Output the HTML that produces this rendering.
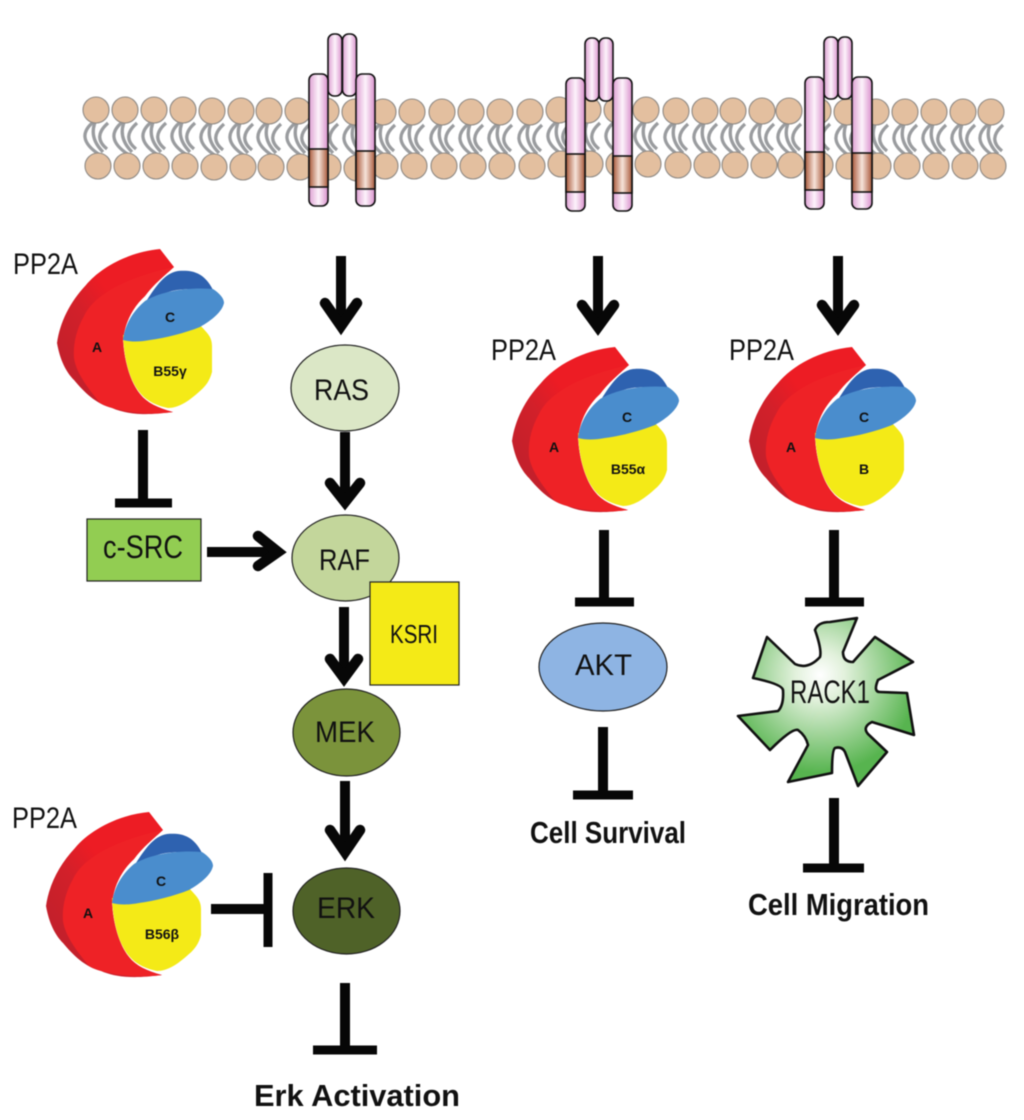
<!DOCTYPE html>
<html><head><meta charset="utf-8"><title>PP2A signalling</title>
<style>html,body{margin:0;padding:0;background:#fff;width:1024px;height:1120px;overflow:hidden}svg{display:block;filter:blur(.5px)}
text{font-family:"Liberation Sans",sans-serif;fill:#111}</style></head><body>
<svg width="1024" height="1120" viewBox="0 0 1024 1120" xmlns="http://www.w3.org/2000/svg">
<defs>
<linearGradient id="pk"><stop offset="0" stop-color="#dd9fd2"/><stop offset=".5" stop-color="#fdf3fb"/><stop offset="1" stop-color="#d990cc"/></linearGradient>
<linearGradient id="br"><stop offset="0" stop-color="#a9583a"/><stop offset=".5" stop-color="#f6e4da"/><stop offset="1" stop-color="#a9583a"/></linearGradient>
<linearGradient id="dr" x1="0" y1=".6" x2=".6" y2="0"><stop offset="0" stop-color="#c4202b"/><stop offset=".35" stop-color="#d2202a"/><stop offset=".65" stop-color="#ed1c24"/></linearGradient>
<radialGradient id="rk" gradientUnits="userSpaceOnUse" cx="820" cy="675" r="98"><stop offset="0" stop-color="#fff"/><stop offset=".25" stop-color="#e2f1dc"/><stop offset="1" stop-color="#57b44f"/></radialGradient>
<g id="c"><circle r="13" fill="#e3bf9f" stroke="#8f8a85" stroke-width="1.1"/></g>
<g id="t" fill="none" stroke="#9a9c9f" stroke-width="3.3"><path d="M0,10Q-24,27 4,45"/><path d="M0,10Q-8,27 7,42"/><path d="M12,13Q-4,27 11,39"/></g>
<g id="a"><use href="#t"/><use href="#c"/><use href="#c" x="2" y="56"/></g>
<g id="b"><use href="#t"/><use href="#c"/><use href="#c" x="2" y="54"/></g>
<g id="pp">
<path d="M160,249C128,252 100,268 86,285C70,302 60,322 57,343C60,360 66,372 74,380C84,392 96,404 112,408C126,414 143,416 173,412C158,408 147,403 140,394C130,382 124,360 123,340C125,322 133,307 145,296C154,284 164,276 174,267Z" fill="url(#dr)"/>
<path d="M174,267C160,270 132,277 110,290C98,298 90,304 84,316C76,330 73,345 74,358C76,372 86,386 100,403C112,410 143,416 173,412C158,408 147,403 140,394C130,382 124,360 123,340C125,322 133,307 145,296C154,284 164,276 174,267Z" fill="#ee2226"/>
<path d="M123,335L200,325C206,332 212,336 212,346L212,372C210,380 206,386 200,391C188,402 178,408 168,408C158,406 148,402 141,394C130,382 124,360 123,335Z" fill="#f4ea17"/>
<path d="M147,300C156,286 165,273 178,271C192,270 204,272 213,290C200,289 185,288 172,291C162,294 154,297 147,300Z" fill="#2e62b0"/>
<path d="M123,340C125,325 132,312 145,301C160,292 185,287 213,289C219,293 224,298 224,303C222,312 212,320 200,327C185,333 165,338 150,340C140,342 130,342 123,340Z" fill="#4a8dcd"/>
</g>
</defs>
<rect width="1024" height="1120" fill="#fff"/>
<!-- membrane -->
<use href="#a" x="96" y="110"/><use href="#a" x="125" y="110"/><use href="#a" x="154" y="110"/><use href="#a" x="183" y="110"/><use href="#a" x="212" y="111"/><use href="#a" x="241" y="111"/><use href="#a" x="269" y="111"/><use href="#a" x="298" y="111"/>
<use href="#a" x="326" y="111"/><use href="#a" x="355" y="112"/><use href="#b" x="383" y="112"/><use href="#b" x="412" y="112"/><use href="#b" x="442" y="112"/><use href="#b" x="471" y="112"/><use href="#b" x="500" y="112"/><use href="#b" x="530" y="112"/><use href="#b" x="559" y="110"/><use href="#b" x="588" y="110"/><use href="#b" x="617" y="110"/><use href="#b" x="646" y="110"/><use href="#b" x="676" y="111"/><use href="#b" x="705" y="111"/><use href="#b" x="733" y="111"/><use href="#b" x="762" y="111"/><use href="#b" x="789" y="111"/><use href="#b" x="818" y="111"/><use href="#b" x="847" y="112"/><use href="#b" x="876" y="112"/><use href="#b" x="905" y="112"/><use href="#b" x="934" y="112"/><use href="#b" x="963" y="112"/><use href="#b" x="991" y="112"/>
<!-- receptors -->
<g stroke="#111" stroke-width="1.6">
<rect x="328" y="34" width="14" height="62" rx="6" fill="url(#pk)"/><rect x="342.500" y="34" width="14" height="62" rx="6" fill="url(#pk)"/>
<rect x="309" y="74" width="19" height="132" rx="6" fill="url(#pk)"/><rect x="309" y="149" width="19" height="38" fill="url(#br)"/>
<rect x="356" y="74" width="19" height="132" rx="6" fill="url(#pk)"/><rect x="356" y="151" width="19" height="38" fill="url(#br)"/>
<rect x="585" y="38" width="14" height="63" rx="6" fill="url(#pk)"/><rect x="599" y="38" width="14" height="63" rx="6" fill="url(#pk)"/>
<rect x="566" y="78" width="19" height="133" rx="6" fill="url(#pk)"/><rect x="566" y="154" width="19" height="38" fill="url(#br)"/>
<rect x="613" y="78" width="19" height="133" rx="6" fill="url(#pk)"/><rect x="613" y="156" width="19" height="37" fill="url(#br)"/>
<rect x="824" y="37" width="14" height="62" rx="6" fill="url(#pk)"/><rect x="838" y="37" width="14" height="62" rx="6" fill="url(#pk)"/>
<rect x="805" y="77" width="19" height="132" rx="6" fill="url(#pk)"/><rect x="805" y="152" width="19" height="38" fill="url(#br)"/>
<rect x="852" y="77" width="20" height="132" rx="6" fill="url(#pk)"/><rect x="852" y="153" width="20" height="39" fill="url(#br)"/>
</g>
<!-- PP2A complexes -->
<use href="#pp"/><use href="#pp" x="455" y="98"/><use href="#pp" x="692" y="98"/><use href="#pp" x="-11" y="563"/>
<g font-weight="bold" font-size="14" text-anchor="middle">
<text x="97" y="352">A</text><text x="170" y="322">C</text><text x="170" y="376">B55γ</text>
<text x="554" y="452">A</text><text x="627" y="422">C</text><text x="628" y="474">B55α</text>
<text x="791" y="452">A</text><text x="864" y="422">C</text><text x="864" y="474">B</text>
<text x="88" y="918">A</text><text x="161" y="886">C</text><text x="162" y="939">B56β</text>
</g>
<g font-size="30">
<text x="13" y="274" textLength="65" lengthAdjust="spacingAndGlyphs">PP2A</text>
<text x="491" y="360" textLength="65" lengthAdjust="spacingAndGlyphs">PP2A</text>
<text x="729" y="360" textLength="65" lengthAdjust="spacingAndGlyphs">PP2A</text>
<text x="12" y="828" textLength="65" lengthAdjust="spacingAndGlyphs">PP2A</text>
</g>
<!-- nodes -->
<g stroke="#222" stroke-width="1.2">
<ellipse cx="345" cy="388" rx="54" ry="43" fill="#dbe7c6"/>
<ellipse cx="345.500" cy="558" rx="53.500" ry="43" fill="#c3d69b"/>
<ellipse cx="346.500" cy="732.500" rx="53.500" ry="43.500" fill="#7b933b"/>
<ellipse cx="346.500" cy="911" rx="53.500" ry="43" fill="#4f6228"/>
<ellipse cx="603" cy="667" rx="64" ry="44" fill="#8eb4e3"/>
<rect x="87" y="519" width="114" height="62" fill="#92cd52"/>
<rect x="370" y="582" width="89" height="103" fill="#f4ea17"/>
</g>
<path d="M815,630Q818,622 830,622L857,618L843,652Q843,662 853,662L875,637L913,662L878,680Q873,692 880,692L907,693L914,735L872,722Q862,727 868,734L887,752L858,786L845,752Q842,746 835,748Q832,750 832,773L788,782L808,745Q806,736 798,730Q792,728 770,750L738,716L778,711Q784,705 783,690Q782,684 753,678L767,637L795,664Q808,670 820,657Q822,650 815,630Z" fill="url(#rk)" stroke="#111" stroke-width="2.6" stroke-linejoin="round"/>
<g font-size="30">
<text x="314" y="400" textLength="55" lengthAdjust="spacingAndGlyphs">RAS</text>
<text x="319" y="570" textLength="51" lengthAdjust="spacingAndGlyphs">RAF</text>
<text x="315" y="742" textLength="60" lengthAdjust="spacingAndGlyphs">MEK</text>
<text x="317" y="918" textLength="58" lengthAdjust="spacingAndGlyphs">ERK</text>
<text x="575" y="675" textLength="57" lengthAdjust="spacingAndGlyphs">AKT</text>
<text x="103" y="558" font-size="32" textLength="80" lengthAdjust="spacingAndGlyphs">c-SRC</text>
<text x="390" y="643" font-size="26" textLength="48" lengthAdjust="spacingAndGlyphs">KSRI</text>
<text x="790" y="703" font-size="32" textLength="80" lengthAdjust="spacingAndGlyphs">RACK1</text>
</g>
<g font-weight="bold" font-size="31">
<text x="530" y="843" textLength="156" lengthAdjust="spacingAndGlyphs">Cell Survival</text>
<text x="748" y="915" textLength="181" lengthAdjust="spacingAndGlyphs">Cell Migration</text>
<text x="254" y="1106" textLength="206" lengthAdjust="spacingAndGlyphs">Erk Activation</text>
</g>
<!-- arrows -->
<g fill="none" stroke="#070707" stroke-width="10">
<path d="M341,256V326M598,256V327M838,256V327M345,432V502M344,607V678M345,781V852M207,552H278"/>
<path stroke-linecap="round" stroke-linejoin="miter" stroke-width="10.500" d="M325,303L341,326L357,303M582,305L598,327L614,305M822,305L838,327L854,305M330,483L345,502L360,483M330,659L344,678L358,659M330,830L345,852L360,830M258,536L278,552L258,566"/>
<!-- inhibitors -->
<path d="M143,430V503M604,530V602M834,530V602M603,727V795M834,798V868M345,983V1050M211,909H267"/>
<path stroke-width="9" d="M115,503H172M575,602H634M805,602H864M573,795H633M803,868H864M268,873V947M313,1050H377"/>
</g>
</svg>
</body></html>
